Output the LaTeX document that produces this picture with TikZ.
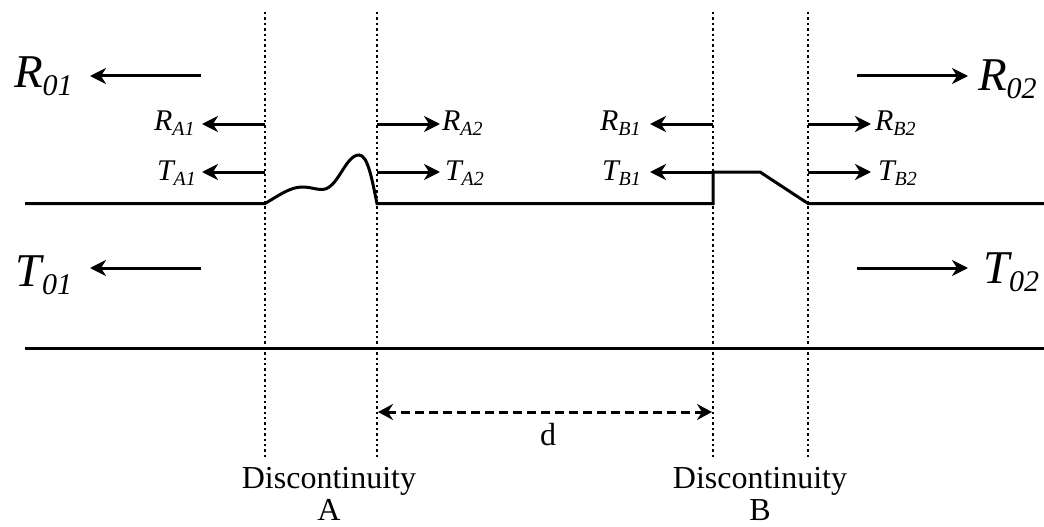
\documentclass[tikz,border=0pt]{standalone}
\usepackage{fontspec}
\setmainfont{Liberation Serif}
\usetikzlibrary{arrows.meta}
\newcommand{\biglab}[2]{{\fontsize{47}{47}\selectfont\itshape #1\raisebox{-8pt}{\fontsize{30}{30}\selectfont #2}}}
\newcommand{\midlab}[2]{{\fontsize{30}{30}\selectfont\itshape #1\raisebox{-5pt}{\fontsize{20}{20}\selectfont #2}}}
\tikzset{
  wire/.style={line width=3pt},
  sepline/.style={line width=2.4pt,dash pattern=on 2.4pt off 3pt},
  arr/.style={line width=3pt,-{Stealth[length=16pt,width=16pt,inset=5pt]}},
  dimline/.style={line width=3pt,dash pattern=on 9pt off 5pt,{Stealth[length=15pt,width=16pt,inset=5pt]}-{Stealth[length=15pt,width=16pt,inset=5pt]}},
  lab/.style={anchor=base west,inner sep=0pt,outer sep=0pt},
  captext/.style={anchor=base,inner sep=0pt,outer sep=0pt,font=\fontsize{32}{32}\selectfont},
}
\begin{document}
\begin{tikzpicture}[x=1pt,y=-1pt]
\useasboundingbox (0,0) rectangle (1044,527);
% separators
\foreach \n/\x in {a/265,b/377,c/713,e/808}{
  \coordinate (\n top) at (\x,12);
  \coordinate (\n bot) at (\x,457);
  \draw[sepline] (\n top) -- (\n bot);
}
% wires
\coordinate (w1) at (25,203.5);
\coordinate (w2) at (1044,203.5);
\coordinate (g1) at (25,348);
\coordinate (g2) at (1044,348);
\draw[wire] (g1) -- (g2);
\draw[wire] (w1) -- (265,203.5)
  .. controls (278,196) and (290,187) .. (302,187)
  .. controls (311,187) and (315,189.5) .. (322,189.5)
  .. controls (338,189.5) and (345,155) .. (359,155)
  .. controls (368,155) and (372,180) .. (377,203.5)
  -- (713,203.5) -- (713,172) -- (760,172) -- (808,203.5) -- (w2);
% large labels
\node[lab] (R01) at (14,88) {\biglab{R}{01}};
\node[lab] (T01) at (16,286) {\biglab{T}{01}};
\node[lab] (R02) at (978,91) {\biglab{R}{02}};
\node[lab] (T02) at (983,283) {\biglab{T}{02}};
% medium labels
\node[lab] (RA1) at (154,130) {\midlab{R}{A1}};
\node[lab] (TA1) at (157,180) {\midlab{T}{A1}};
\node[lab] (RA2) at (442,130) {\midlab{R}{A2}};
\node[lab] (TA2) at (445,180) {\midlab{T}{A2}};
\node[lab] (RB1) at (600,130) {\midlab{R}{B1}};
\node[lab] (TB1) at (602,180) {\midlab{T}{B1}};
\node[lab] (RB2) at (875,130) {\midlab{R}{B2}};
\node[lab] (TB2) at (878,180) {\midlab{T}{B2}};
% free ends of large arrows
\coordinate (r01s) at (201,76);
\coordinate (r01e) at (90,76);
\coordinate (t01s) at (201,268);
\coordinate (t01e) at (90,268);
\coordinate (r02s) at (857,76);
\coordinate (r02e) at (968,76);
\coordinate (t02s) at (857,268);
\coordinate (t02e) at (968,268);
\draw[arr] (r01s) -- (r01e);
\draw[arr] (t01s) -- (t01e);
\draw[arr] (r02s) -- (r02e);
\draw[arr] (t02s) -- (t02e);
% small arrows
\foreach \y/\s in {124/r,172/t}{
  \coordinate (\s a) at (265,\y);
  \coordinate (\s ae) at (202,\y);
  \coordinate (\s b) at (377,\y);
  \coordinate (\s be) at (440,\y);
  \coordinate (\s c) at (713,\y);
  \coordinate (\s ce) at (650,\y);
  \coordinate (\s d) at (808,\y);
  \coordinate (\s de) at (871,\y);
  \draw[arr] (\s a) -- (\s ae);
  \draw[arr] (\s b) -- (\s be);
  \draw[arr] (\s c) -- (\s ce);
  \draw[arr] (\s d) -- (\s de);
}
% distance
\coordinate (d1) at (378,412);
\coordinate (d2) at (712,412);
\draw[dimline] (d1) -- (d2);
\node[captext] (dlab) at (548,445) {d};
\node[captext] (discA) at (329,488) {Discontinuity};
\node[captext] (lettA) at (329,520) {A};
\node[captext] (discB) at (760,488) {Discontinuity};
\node[captext] (lettB) at (760,520) {B};
\end{tikzpicture}
\end{document}
